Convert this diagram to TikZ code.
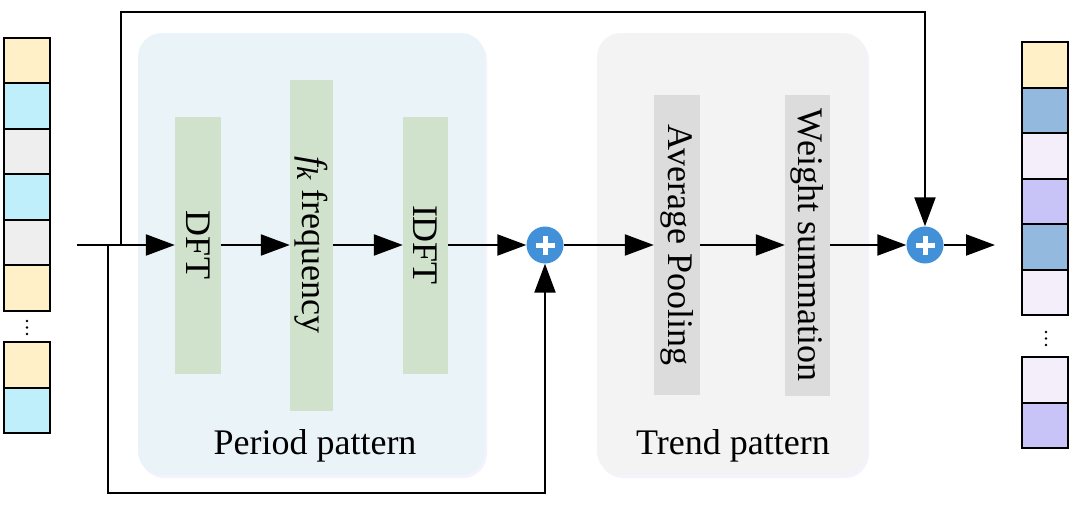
\documentclass[tikz,border=0pt]{standalone}
\usepackage{fontspec}
\setmainfont{Liberation Serif}
\usetikzlibrary{arrows.meta,shadows}
\definecolor{cyel}{HTML}{FFF0C8}
\definecolor{ccyan}{HTML}{BEEFFA}
\definecolor{cgray}{HTML}{EEEEEE}
\definecolor{csteel}{HTML}{93B9DF}
\definecolor{clightlav}{HTML}{F3EEFA}
\definecolor{clav}{HTML}{C9C4F8}
\definecolor{periodbg}{HTML}{EAF3F7}
\definecolor{trendbg}{HTML}{F3F3F3}
\definecolor{greenbar}{HTML}{D0E2CC}
\definecolor{graybar}{HTML}{DCDCDC}
\definecolor{plusblue}{HTML}{4190D8}
\tikzset{
  bigfont/.style={font=\fontsize{36}{40}\selectfont},
  cell/.style={draw=black, line width=2.2pt, minimum width=46pt, minimum height=45.5pt, inner sep=0pt},
  panel/.style={rounded corners=24pt, draw=none, drop shadow={opacity=0.12, shadow xshift=2pt, shadow yshift=-3pt, fill=blue!40}},
  bar/.style={rotate=-90, inner sep=0pt, bigfont, draw=none},
  arr/.style={line width=2.2pt, -{Triangle[length=29pt,width=21pt]}},
  plusnode/.style={circle, fill=plusblue, minimum size=37pt, inner sep=0pt,
    path picture={
      \draw[white, line width=5pt] ([xshift=-9.5pt]path picture bounding box.center) -- ([xshift=9.5pt]path picture bounding box.center);
      \draw[white, line width=5pt] ([yshift=-9.5pt]path picture bounding box.center) -- ([yshift=9.5pt]path picture bounding box.center);
    }},
  vdot/.style={circle, fill=black, inner sep=0pt, minimum size=2.6pt}
}
\begin{document}
\begin{tikzpicture}[x=1pt,y=-1pt]
\useasboundingbox (0,0) rectangle (1080,506);

% panels
\node[panel, fill=periodbg, minimum width=347pt, minimum height=442pt] (period) at (311.5,254) {};
\node[panel, fill=trendbg, minimum width=270pt, minimum height=442pt] (trend) at (732,254) {};
\node[bigfont] (periodlbl) at (315,446) {Period pattern};
\node[bigfont] (trendlbl) at (733,446) {Trend pattern};

% bars
\node[bar, fill=greenbar, minimum width=257pt, minimum height=46pt] (dft) at (198,245) {DFT};
\node[bar, fill=greenbar, minimum width=331pt, minimum height=43pt] (fk) at (311.5,245) {{\itshape f}\raisebox{-0.3ex}{\fontsize{30}{32}\selectfont\itshape k} frequency};
\node[bar, fill=greenbar, minimum width=257pt, minimum height=45pt] (idft) at (425.5,245) {IDFT};
\node[bar, fill=graybar, minimum width=300pt, minimum height=46pt] (avg) at (677,245) {Average Pooling};
\node[bar, fill=graybar, minimum width=301pt, minimum height=45pt] (wsum) at (807.5,245) {Weight summation};

% plus nodes
\node[plusnode] (p1) at (545,245) {};
\node[plusnode] (p2) at (925,245) {};

% input column
\node[cell, fill=cyel]  (i1) at (27,60.5) {};
\node[cell, fill=ccyan] (i2) at (27,106) {};
\node[cell, fill=cgray] (i3) at (27,151.5) {};
\node[cell, fill=ccyan] (i4) at (27,197) {};
\node[cell, fill=cgray] (i5) at (27,242.5) {};
\node[cell, fill=cyel]  (i6) at (27,288) {};
\node[vdot] (id1) at (27,321) {};
\node[vdot] (id2) at (27,327.5) {};
\node[vdot] (id3) at (27,334) {};
\node[cell, fill=cyel]  (i7) at (27,365) {};
\node[cell, fill=ccyan] (i8) at (27,410.5) {};

% output column
\node[cell, fill=cyel]      (o1) at (1045,65) {};
\node[cell, fill=csteel]    (o2) at (1045,110.5) {};
\node[cell, fill=clightlav] (o3) at (1045,156) {};
\node[cell, fill=clav]      (o4) at (1045,201.5) {};
\node[cell, fill=csteel]    (o5) at (1045,247) {};
\node[cell, fill=clightlav] (o6) at (1045,292.5) {};
\node[vdot] (od1) at (1046,332) {};
\node[vdot] (od2) at (1046,338.5) {};
\node[vdot] (od3) at (1046,345) {};
\node[cell, fill=clightlav] (o7) at (1045,380) {};
\node[cell, fill=clav]      (o8) at (1045,425.5) {};

% coordinates
\coordinate (in0) at (77,245);
\coordinate (t1) at (121,245);
\coordinate (b1) at (108,245);
\coordinate (out0) at (995,245);

% connectors
\draw[arr] (in0) -- (dft);
\draw[arr] (dft) -- (fk);
\draw[arr] (fk) -- (idft);
\draw[arr] (idft) -- (p1);
\draw[arr] (p1) -- (avg);
\draw[arr] (avg) -- (wsum);
\draw[arr] (wsum) -- (p2);
\draw[arr] (p2) -- (out0);
\draw[arr] (t1) -- (t1 |- 0,12) -| (p2);
\draw[arr] (b1) -- (b1 |- 0,493) -| (p1);
\end{tikzpicture}
\end{document}
